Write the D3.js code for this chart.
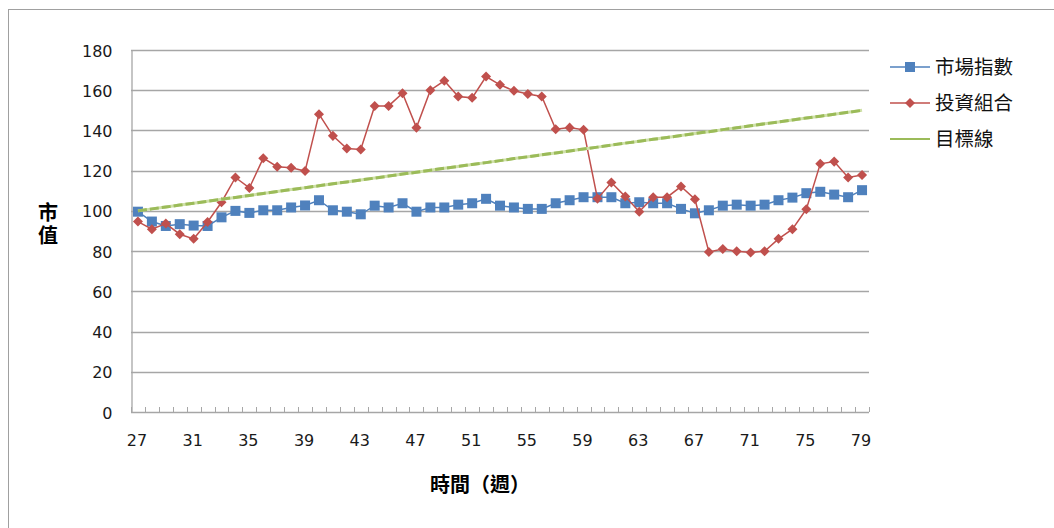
<!DOCTYPE html>
<html>
<head>
<meta charset="utf-8">
<script src="https://cdn.jsdelivr.net/npm/d3@7.9.0/dist/d3.min.js"></script>
<style>
  body { margin: 0; background: #fff; }
  svg { display: block; }
</style>
</head>
<body>
<svg id="chart" width="1054" height="528"></svg>
<script>
// weeks 27..79
const weeks = d3.range(27, 80);

// 市場指數
const market = [99.6, 94.7, 92.5, 93.4, 92.7, 92.5, 96.8, 100, 99, 100.3,
  100.3, 101.7, 102.7, 105.3, 100.3, 99.6, 98.3, 102.6, 101.7, 103.8,
  99.6, 101.7, 101.7, 103.1, 103.8, 106, 102.6, 101.7, 101, 101,
  103.8, 105.3, 106.8, 106.8, 106.8, 103.8, 104.3, 103.8, 103.8, 101,
  98.8, 100.3, 102.6, 103.1, 102.6, 103.1, 105.3, 106.6, 108.8, 109.5,
  108.1, 106.8, 110.3];

// 投資組合
const portfolio = [94.7, 90.9, 93.7, 88.4, 86.1, 94.5, 104.3, 116.6, 111.4, 126.2,
  122.0, 121.4, 119.8, 148.1, 137.3, 131.0, 130.5, 152.2, 152.2, 158.5,
  141.4, 160, 164.7, 156.9, 156.2, 166.8, 162.7, 159.7, 158.1, 156.9,
  140.6, 141.4, 140.3, 106.1, 114.1, 107.1, 99.6, 106.8, 106.8, 112.1,
  105.8, 79.6, 81.1, 79.9, 79.3, 79.9, 86.1, 90.9, 100.8, 123.4,
  124.5, 116.6, 117.8];

// 目標線
const target = [100, 101.0, 101.9, 102.9, 103.8, 104.8, 105.8, 106.7, 107.7, 108.7,
  109.6, 110.6, 111.5, 112.5, 113.5, 114.4, 115.4, 116.3, 117.3, 118.3,
  119.2, 120.2, 121.2, 122.1, 123.1, 124.0, 125.0, 126.0, 126.9, 127.9,
  128.8, 129.8, 130.8, 131.7, 132.7, 133.7, 134.6, 135.6, 136.5, 137.5,
  138.5, 139.4, 140.4, 141.3, 142.3, 143.3, 144.2, 145.2, 146.2, 147.1,
  148.1, 149.0, 150.0];

const yTicks = [0, 20, 40, 60, 80, 100, 120, 140, 160, 180];
const xTickLabels = weeks.filter((w) => (w - 27) % 4 === 0);

const seriesNames = ['市場指數', '投資組合', '目標線'];
const blue = '#4F81BD', red = '#C0504D', green = '#9BBB59';
const grid = '#a6a6a6';
const numFont = '"DejaVu Sans", Verdana, sans-serif';
const cjkFont = '"Noto Sans CJK TC", "Noto Sans CJK SC", sans-serif';

const svg = d3.select('#chart');

// outer frame
svg.append('rect')
  .attr('x', 8.5).attr('y', 9.5)
  .attr('width', 1100).attr('height', 600)
  .attr('fill', 'none').attr('stroke', '#a0a0a0').attr('stroke-width', 1);

const plotL = 131, plotR = 869, plotT = 50, plotB = 412;

const x = d3.scaleBand().domain(weeks).range([plotL, plotR]);
const y = d3.scaleLinear().domain([0, 180]).range([plotB, plotT]);
const cx = (w) => x(w) + x.bandwidth() / 2;

// gridlines
svg.append('g')
  .selectAll('line')
  .data(yTicks.filter((d) => d > 0))
  .join('line')
  .attr('x1', plotL).attr('x2', plotR)
  .attr('y1', (d) => Math.round(y(d)) + 0.5)
  .attr('y2', (d) => Math.round(y(d)) + 0.5)
  .attr('stroke', grid).attr('stroke-width', 1.3);

// y axis
const yAxis = svg.append('g')
  .attr('transform', `translate(${plotL + 0.5},0)`)
  .call(d3.axisLeft(y).tickValues(yTicks).tickSize(0).tickPadding(19));
yAxis.select('.domain').attr('stroke', grid).attr('stroke-width', 1.3);
yAxis.selectAll('text')
  .attr('font-family', numFont).attr('font-size', 16).attr('fill', '#1a1a1a')
  .attr('dy', '0.38em');

// x axis (inside ticks between categories)
const xAxisG = svg.append('g');
xAxisG.append('line')
  .attr('x1', plotL).attr('x2', plotR)
  .attr('y1', plotB + 0.5).attr('y2', plotB + 0.5)
  .attr('stroke', grid).attr('stroke-width', 1.3);
xAxisG.selectAll('line.tick')
  .data(weeks.concat([80]))
  .join('line')
  .attr('class', 'tick')
  .attr('x1', (w) => Math.round(w === 80 ? plotR : x(w)) + 0.5)
  .attr('x2', (w) => Math.round(w === 80 ? plotR : x(w)) + 0.5)
  .attr('y1', plotB).attr('y2', plotB - 5)
  .attr('stroke', grid).attr('stroke-width', 1);
xAxisG.selectAll('text')
  .data(xTickLabels)
  .join('text')
  .attr('x', (w) => cx(w) - 1)
  .attr('y', 445.5)
  .attr('text-anchor', 'middle')
  .attr('font-family', numFont).attr('font-size', 16).attr('fill', '#1a1a1a')
  .text((w) => w);

// axis titles (y title stacked vertically)
svg.append('text')
  .attr('x', 48).attr('y', 202)
  .attr('font-family', cjkFont).attr('font-size', 20).attr('font-weight', 'bold')
  .style('writing-mode', 'vertical-rl')
  .style('text-orientation', 'upright')
  .style('letter-spacing', '3px')
  .text('市值');
svg.append('text')
  .attr('x', 480).attr('y', 492)
  .attr('text-anchor', 'middle')
  .attr('font-family', cjkFont).attr('font-size', 20).attr('font-weight', 'bold')
  .text('時間（週）');

const line = d3.line().x((d, i) => cx(weeks[i])).y((d) => y(d));

// 市場指數
svg.append('path')
  .attr('d', line(market))
  .attr('fill', 'none').attr('stroke', blue).attr('stroke-width', 1.5);
svg.append('g')
  .selectAll('rect')
  .data(market)
  .join('rect')
  .attr('x', (d, i) => cx(weeks[i]) - 5)
  .attr('y', (d) => y(d) - 5)
  .attr('width', 10).attr('height', 10)
  .attr('fill', blue);

// 投資組合
const diamond = d3.symbol().type(d3.symbolDiamond2).size(64);
svg.append('path')
  .attr('d', line(portfolio))
  .attr('fill', 'none').attr('stroke', red).attr('stroke-width', 1.5);
svg.append('g')
  .selectAll('path')
  .data(portfolio)
  .join('path')
  .attr('transform', (d, i) => `translate(${cx(weeks[i])},${y(d)})`)
  .attr('d', diamond)
  .attr('fill', red);

// 目標線
svg.append('path')
  .attr('d', line(target))
  .attr('fill', 'none').attr('stroke', '#cfe0a8').attr('stroke-width', 3);
svg.append('path')
  .attr('d', line(target))
  .attr('fill', 'none').attr('stroke', green).attr('stroke-width', 3)
  .attr('stroke-dasharray', '9,3');

// legend
const colors = [blue, red, green];
const legend = svg.append('g');
seriesNames.forEach((name, i) => {
  const ly = 67 + i * 36;
  legend.append('line')
    .attr('x1', 890).attr('x2', 930).attr('y1', ly).attr('y2', ly)
    .attr('stroke', colors[i]).attr('stroke-width', i === 2 ? 2 : 1.5);
  if (i === 0) {
    legend.append('rect')
      .attr('x', 905).attr('y', ly - 5).attr('width', 10).attr('height', 10)
      .attr('fill', blue);
  } else if (i === 1) {
    legend.append('path')
      .attr('transform', `translate(910,${ly})`)
      .attr('d', diamond).attr('fill', red);
  }
  legend.append('text')
    .attr('x', 935).attr('y', ly + 7)
    .attr('font-family', cjkFont).attr('font-size', 19.5).attr('fill', '#111')
    .text(name);
});
</script>
</body>
</html>
